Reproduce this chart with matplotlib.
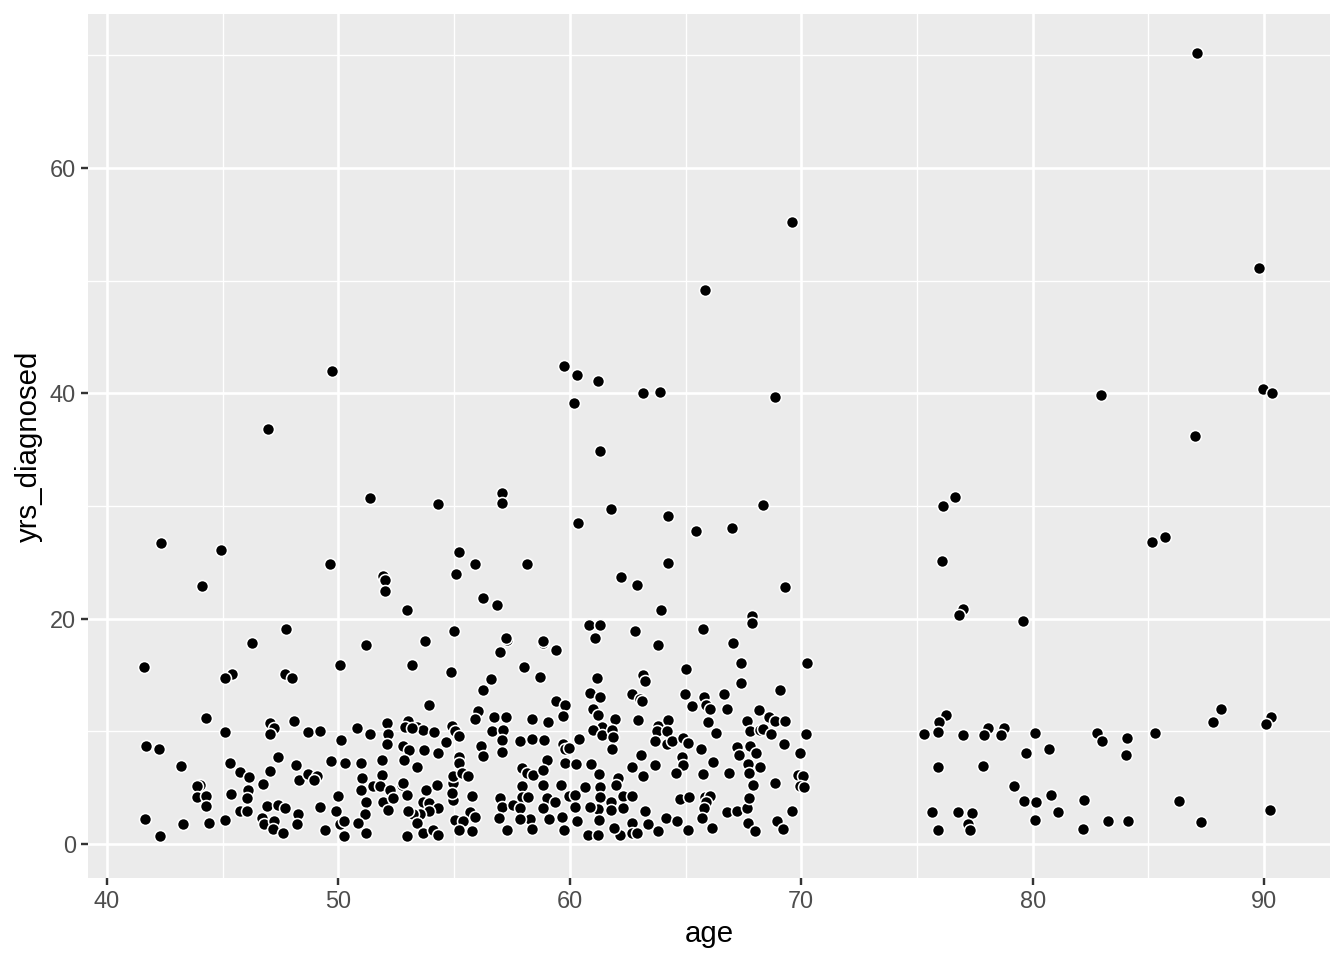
import matplotlib
matplotlib.use("Agg")
import matplotlib.pyplot as plt
from matplotlib.ticker import MultipleLocator
import numpy as np

age = [
    46.25, 41.6, 45.4, 45.1, 47.7, 48.0, 50.07, 44.3, 45.1, 47.04,
    47.2, 47.04, 48.1, 48.7, 49.2, 50.1, 41.7, 42.25, 43.2, 47.4,
    45.3, 45.75, 46.15, 47.04, 46.75, 48.15, 48.3, 48.7, 49.06, 48.95,
    49.7, 50.3, 44.0, 43.9, 43.9, 44.3, 44.3, 45.36, 46.08, 46.05,
    45.75, 46.04, 46.9, 47.4, 47.7, 46.7, 46.8, 47.2, 47.16, 47.6,
    48.24, 48.22, 49.2, 49.4, 50.0, 49.9, 50.07, 50.24, 50.25, 41.65,
    42.3, 43.3, 44.4, 45.1,
    51.2, 53.74, 53.17, 54.87, 53.9, 50.8, 51.37, 52.1, 52.13, 52.1,
    53.02, 52.88, 53.38, 53.64, 53.2, 54.13, 52.8, 53.06, 53.7, 54.3,
    54.65, 54.9, 55.04, 55.2, 50.96, 51.9, 52.83, 53.4, 55.2, 55.23,
    51.03, 51.9, 51.5, 50.96, 51.2, 51.15, 50.86, 51.2, 51.8, 52.23,
    51.94, 52.16, 52.37, 52.73, 52.95, 52.8, 53.8, 54.24, 53.67, 53.93,
    54.32, 53.93, 53.53, 53.24, 53.02, 53.4, 53.67, 54.1, 54.32, 52.98,
    54.97, 54.94, 54.97, 55.33, 55.62, 54.9, 55.76, 55.7, 55.9, 55.04,
    55.4, 55.2, 55.76, 57.0, 57.27, 58.85, 59.4, 58.0, 58.7, 56.6,
    56.23, 59.4, 59.8, 59.7, 56.05, 55.9, 56.74, 57.23, 58.38, 59.04,
    56.65, 57.13, 57.08, 57.08, 56.15, 56.24, 57.85, 58.35, 58.88, 59.7,
    59.8, 59.0, 59.8, 57.93, 58.14, 58.43, 58.86, 59.6, 58.86, 57.93,
    57.0, 57.05, 57.93, 57.56, 57.85, 58.2, 59.0, 58.86, 59.36, 59.65,
    59.1, 58.28, 57.85, 56.95, 57.27, 58.35, 59.75,
    61.1, 63.8, 67.07, 67.4, 67.4, 65.0, 70.23, 69.1, 61.16, 60.87,
    61.3, 63.18, 63.25, 62.67, 63.03, 63.1, 64.98, 65.8, 65.9, 66.06,
    66.67, 66.78, 65.3, 61.0, 61.2, 61.95, 61.4, 61.0, 61.4, 61.84,
    61.88, 61.84, 62.96, 63.83, 64.23, 63.75, 64.2, 63.68, 64.2, 64.4,
    64.9, 65.1, 65.98, 66.3, 65.67, 67.64, 68.17, 68.6, 68.87, 69.3,
    67.8, 68.2, 68.36, 68.7, 69.27, 70.2, 67.24, 67.3, 67.8, 68.05,
    67.7, 67.76, 68.2, 67.93, 69.93, 69.87, 70.06, 69.93, 70.1, 68.87,
    66.9, 66.2, 65.74, 64.86, 64.88, 64.6, 63.68, 63.08, 62.67, 63.18,
    60.4, 59.98, 60.27, 60.9, 61.28, 59.98, 60.23, 60.23, 60.66, 61.3,
    61.3, 61.2, 60.87, 61.28, 60.3, 60.8, 61.23, 62.1, 62.0, 62.3,
    62.67, 61.8, 62.28, 61.8, 62.17, 61.9, 62.67, 62.7, 62.9, 63.25,
    63.4, 63.8, 64.17, 64.63, 65.1, 64.77, 65.17, 65.85, 66.06, 65.88,
    65.8, 65.7, 66.14, 66.78, 67.24, 67.67, 67.76, 67.7, 68.0, 68.97,
    69.2, 69.6,
    76.24, 75.97, 75.9, 75.32, 76.98, 78.08, 77.9, 78.76, 78.62, 80.1,
    75.93, 77.84, 79.7, 80.7, 82.8, 82.98, 84.09, 84.02, 85.29, 88.14,
    87.8, 90.3, 90.08, 79.2, 79.63, 80.15, 80.8, 81.08, 80.1, 82.22,
    82.16, 83.27, 84.1, 86.34, 87.28, 90.26, 75.67, 75.93, 76.76, 77.37,
    77.2, 77.3,
    87.1, 69.6, 89.8, 65.84, 59.75, 60.3, 49.74, 61.2, 60.2, 63.16,
    63.9, 68.87, 82.95, 89.96, 90.35, 46.94, 61.3, 87.0, 51.35, 54.32,
    57.07, 57.07, 60.35, 61.78, 64.24, 68.35, 76.13, 76.65, 65.45, 67.0,
    42.33, 44.94, 55.22, 49.64, 55.9, 58.15, 64.24, 55.07, 76.1, 85.16,
    85.7, 51.94, 52.0, 52.03, 44.09, 62.2, 62.9, 69.3, 56.26, 56.86,
    63.94, 52.95, 60.84, 61.3, 62.8, 65.77, 67.88, 67.88, 57.26, 58.86,
    47.72, 55.0, 79.6, 76.98, 76.8,
]

yrs_diagnosed = [
    17.86, 15.7, 15.1, 14.7, 15.1, 14.7, 15.9, 11.2, 9.96, 10.7,
    10.3, 9.8, 10.9, 9.96, 10.0, 9.2, 8.7, 8.4, 6.9, 7.7,
    7.2, 6.4, 5.9, 6.5, 5.3, 7.0, 5.7, 6.2, 6.0, 5.7,
    7.4, 7.2, 5.2, 5.1, 4.2, 4.3, 3.4, 4.4, 4.8, 4.1,
    2.95, 2.93, 3.37, 3.46, 3.2, 2.3, 1.8, 2.0, 1.3, 1.0,
    2.7, 1.8, 3.26, 1.2, 4.3, 2.9, 1.8, 2.0, 0.7, 2.2,
    0.7, 1.8, 1.9, 2.1,
    17.7, 18.0, 15.9, 15.3, 12.3, 10.3, 9.8, 10.7, 9.8, 8.9,
    10.9, 10.4, 10.35, 10.1, 10.26, 9.9, 8.7, 8.3, 8.3, 8.05,
    9.08, 10.5, 10.0, 9.6, 7.2, 7.45, 7.45, 6.86, 7.75, 7.16,
    5.83, 6.1, 5.1, 4.8, 3.75, 2.7, 1.9, 1.0, 5.1, 4.8,
    3.75, 3.0, 4.05, 5.2, 4.35, 5.4, 4.8, 5.2, 3.75, 3.66,
    3.2, 2.9, 2.7, 2.7, 2.95, 1.9, 1.0, 1.24, 0.8, 0.7,
    5.4, 3.9, 6.0, 6.3, 6.0, 4.5, 4.3, 2.87, 2.4, 2.1,
    2.04, 1.24, 1.18, 17.0, 18.1, 17.86, 17.2, 15.7, 14.85, 14.6,
    13.7, 12.7, 12.3, 11.36, 11.8, 11.06, 11.3, 11.24, 11.1, 10.8,
    10.0, 10.1, 9.2, 8.2, 8.7, 7.8, 9.1, 9.3, 9.2, 8.9,
    8.4, 7.45, 7.16, 6.7, 6.27, 6.1, 6.57, 5.2, 5.2, 5.1,
    4.05, 3.3, 4.2, 3.46, 3.17, 4.2, 4.05, 3.17, 3.75, 2.4,
    2.2, 2.2, 2.2, 2.34, 1.24, 1.3, 1.24,
    18.3, 17.66, 17.8, 16.1, 14.3, 15.5, 16.1, 13.7, 14.7, 13.4,
    13.0, 15.0, 14.5, 13.3, 12.9, 12.7, 13.3, 13.0, 12.3, 11.95,
    13.3, 12.0, 12.2, 12.0, 11.45, 11.1, 10.4, 10.1, 9.67, 10.1,
    9.47, 8.43, 11.0, 10.5, 11.0, 10.05, 10.05, 9.14, 8.87, 9.14,
    9.38, 9.0, 10.85, 9.88, 8.4, 10.9, 11.9, 11.3, 10.9, 10.9,
    10.05, 10.1, 10.17, 9.76, 8.87, 9.73, 8.63, 7.9, 8.7, 8.05,
    7.1, 6.27, 6.8, 5.23, 8.05, 6.1, 6.0, 5.1, 5.03, 5.4,
    6.27, 7.23, 6.17, 7.7, 7.0, 6.27, 7.0, 7.9, 6.86, 6.0,
    9.3, 8.5, 7.1, 7.1, 6.2, 4.26, 4.35, 3.3, 5.08, 5.08,
    4.2, 3.08, 3.3, 2.13, 2.07, 0.8, 0.8, 5.83, 5.23, 4.26,
    4.29, 3.75, 3.17, 3.0, 0.8, 1.45, 1.84, 1.0, 1.0, 2.96,
    1.78, 1.18, 2.34, 2.07, 1.24, 3.96, 4.14, 4.2, 4.26, 3.75,
    3.2, 2.27, 1.38, 2.8, 2.93, 3.17, 4.05, 1.9, 1.15, 2.07,
    1.3, 2.93,
    11.4, 10.85, 9.96, 9.76, 9.67, 10.27, 9.67, 10.27, 9.67, 9.82,
    6.8, 6.9, 8.1, 8.4, 9.82, 9.14, 9.43, 7.9, 9.82, 11.98,
    10.85, 11.24, 10.65, 5.15, 3.8, 3.7, 4.35, 2.8, 2.13, 3.9,
    1.3, 2.04, 2.07, 3.8, 1.98, 3.0, 2.87, 1.24, 2.8, 2.78,
    1.78, 1.24,
    70.2, 55.2, 51.1, 49.2, 42.4, 41.6, 42.0, 41.1, 39.1, 40.0,
    40.1, 39.7, 39.8, 40.4, 40.0, 36.8, 34.9, 36.2, 30.7, 30.2,
    31.1, 30.3, 28.5, 29.7, 29.1, 30.1, 30.0, 30.8, 27.8, 28.0,
    26.7, 26.1, 25.9, 24.8, 24.8, 24.8, 24.9, 24.0, 25.1, 26.8,
    27.2, 23.8, 23.4, 22.45, 22.9, 23.7, 23.0, 22.8, 21.85, 21.2,
    20.76, 20.76, 19.4, 19.4, 18.9, 19.05, 20.2, 19.6, 18.3, 18.0,
    19.1, 18.9, 19.8, 20.85, 20.3,
]

x_ticks = [40, 50, 60, 70, 80, 90]
y_ticks = [0, 20, 40, 60]

plt.rcParams['font.family'] = ['Liberation Sans', 'DejaVu Sans']

fig = plt.figure(figsize=(7, 5), dpi=192)
ax = fig.add_axes([88 / 1344, 1 - 878 / 960, (1330 - 88) / 1344, (878 - 14) / 960])
ax.set_facecolor('#EBEBEB')

ax.scatter(age, yrs_diagnosed, s=4.5 ** 2, c='black', edgecolors='white',
           linewidths=0.6, zorder=3)

ax.set_xlim(39.18, 92.85)
ax.set_ylim(-3.02, 73.65)
ax.set_xticks(x_ticks)
ax.set_yticks(y_ticks)
ax.xaxis.set_minor_locator(MultipleLocator(5))
ax.yaxis.set_minor_locator(MultipleLocator(10))
ax.grid(which='major', color='white', linewidth=1.0, zorder=0)
ax.grid(which='minor', color='white', linewidth=0.5, zorder=0)
ax.set_axisbelow(True)
for sp in ax.spines.values():
    sp.set_visible(False)
ax.tick_params(which='major', length=2.6, width=0.9, color='#333333',
               labelsize=8.8, labelcolor='#4D4D4D', pad=2)
ax.tick_params(which='minor', length=0)
ax.set_xlabel('age', fontsize=11, color='black', labelpad=2.5)
ax.set_ylabel('yrs_diagnosed', fontsize=11, color='black', labelpad=2.5)

fig.savefig('out.png', dpi=192, facecolor='white')
